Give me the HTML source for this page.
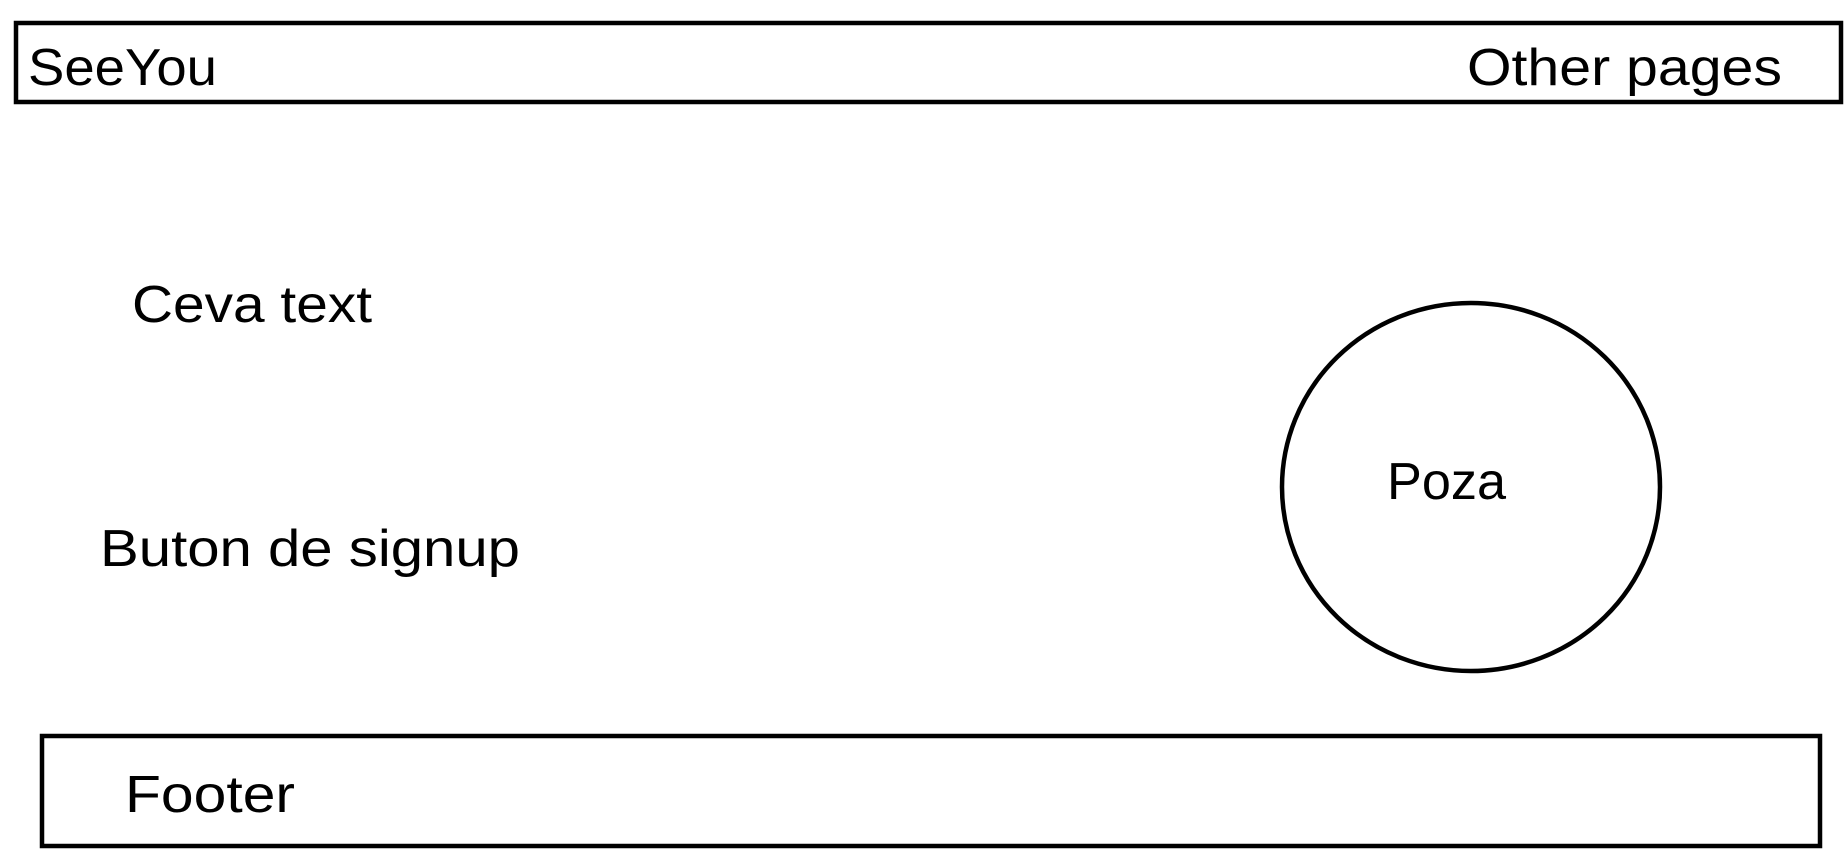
<!DOCTYPE html>
<html><head><meta charset="utf-8"><style>
html,body{margin:0;padding:0;background:#fff;width:1848px;height:859px;overflow:hidden}
svg text{font-family:"Liberation Sans",sans-serif;font-size:52px;fill:#000}
</style></head><body>
<svg width="1848" height="859" viewBox="0 0 1848 859">
<g>
<rect x="16" y="23" width="1825" height="79" fill="none" stroke="#000" stroke-width="4.5"/>
<text x="28" y="85" textLength="189" lengthAdjust="spacingAndGlyphs">SeeYou</text>
<text x="1467" y="85" textLength="315" lengthAdjust="spacingAndGlyphs">Other pages</text>
</g>
<text x="132" y="322" textLength="240" lengthAdjust="spacingAndGlyphs">Ceva text</text>
<text x="100" y="566" textLength="420" lengthAdjust="spacingAndGlyphs">Buton de signup</text>
<ellipse cx="1471" cy="487" rx="189" ry="184" fill="none" stroke="#000" stroke-width="4.5"/>
<text x="1387" y="499" textLength="119" lengthAdjust="spacingAndGlyphs">Poza</text>
<g>
<rect x="42" y="736" width="1778" height="110" fill="none" stroke="#000" stroke-width="4.5"/>
<text x="125" y="812" textLength="170" lengthAdjust="spacingAndGlyphs">Footer</text>
</g>
</svg>
</body></html>
